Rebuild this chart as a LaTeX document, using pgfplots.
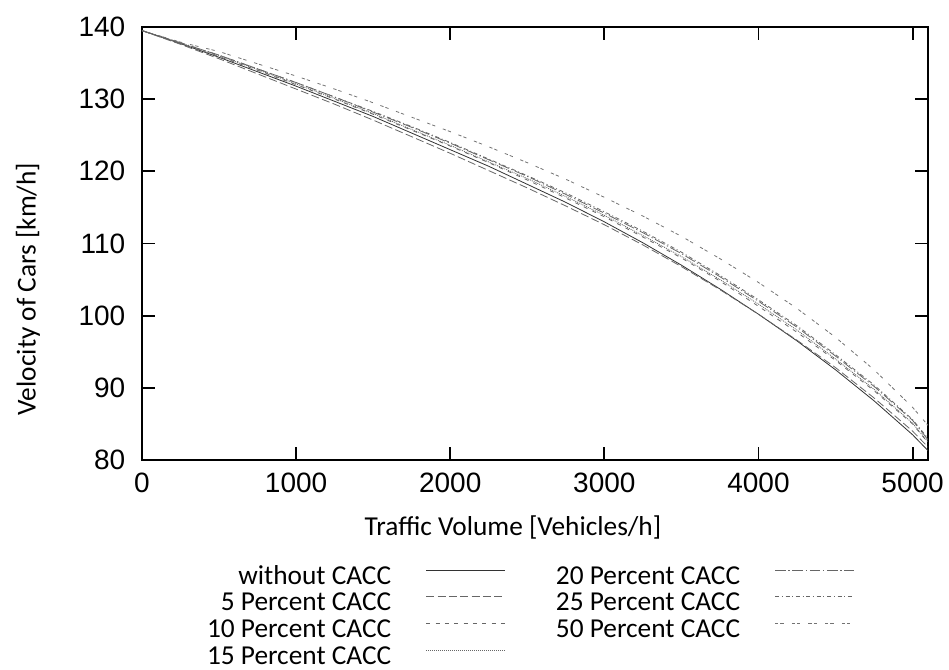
\documentclass[border=0pt]{standalone}
\usepackage{pgfplots}
\pgfplotsset{compat=1.18}
\usepackage{fontspec}
\setmainfont{Carlito}
\newfontfamily\arial{Liberation Sans}

\pgfplotstableread{
x     wo     p5     p10    p15    p20    p25    p50
0     139.5  139.5  139.5  139.5  139.5  139.5  139.5
250   137.7  137.6  137.7  137.8  137.8  137.8  137.9
500   135.8  135.6  135.9  136.0  136.1  136.1  136.6
750   133.8  133.5  134.0  134.1  134.2  134.2  134.9
1000  131.8  131.4  132.0  132.1  132.3  132.3  133.2
1250  129.7  129.3  130.0  130.1  130.3  130.3  131.4
1500  127.6  127.1  127.9  128.0  128.2  128.3  129.5
1750  125.3  124.8  125.7  125.8  126.1  126.2  127.5
2000  123.0  122.5  123.5  123.6  123.9  124.0  125.5
2250  120.7  120.1  121.2  121.3  121.6  121.7  123.4
2500  118.2  117.7  118.8  119.0  119.3  119.4  121.2
2750  115.7  115.2  116.3  116.5  116.8  117.0  118.9
3000  113.0  112.6  113.7  113.9  114.2  114.4  116.4
3250  110.1  109.8  110.9  111.1  111.5  111.7  113.8
3500  107.0  106.8  108.0  108.2  108.6  108.8  111.0
3750  103.7  103.6  104.8  105.0  105.4  105.6  107.9
4000  100.2  100.2  101.3  101.6  102.0  102.2  104.6
4250   96.5   96.6   97.7   98.0   98.4   98.6  101.0
4500   92.5   92.8   93.8   94.0   94.4   94.6   97.0
4750   88.2   88.6   89.6   89.8   90.2   90.4   92.5
5000   83.5   84.0   85.0   85.1   85.5   85.6   87.3
5100   81.3   81.8   82.4   82.5   82.8   83.0   84.8
}\speeds

\begin{document}
\begin{tikzpicture}
% fixed page size: 949x670 px at 0.75pt per px
\path[use as bounding box] (-106.5pt,-157.5pt) rectangle (605.25pt,345pt);
\begin{axis}[
  at={(0,0)}, anchor=south west,
  scale only axis,
  width=589.5pt, height=324.75pt,
  xmin=0, xmax=5100, ymin=80, ymax=140,
  xtick={0,1000,...,5000}, ytick={80,90,...,140},
  tick align=inside,
  major tick length=10pt,
  every tick/.style={black, line width=1.4pt},
  axis line style={line width=1.4pt},
  tick label style={font=\arial\fontsize{21}{23}\selectfont},
  /pgf/number format/assume math mode=true,
  /pgf/number format/1000 sep={},
  xticklabel style={yshift=-6pt},
  yticklabel style={xshift=-9pt},
  label style={font=\fontsize{20.5}{22}\selectfont},
  xlabel={Traffic Volume [Vehicles/h]},
  ylabel={Velocity of Cars [km/h]},
  xlabel style={at={(axis description cs:0.472,-0.155)}, anchor=center},
  ylabel style={at={(axis description cs:-0.145,0.395)}, anchor=center},
  legend columns=2,
  legend plot pos=right,
  legend cell align=right,
  legend style={draw=none, inner sep=0pt, outer sep=0pt,
    at={(axis description cs:0.0827,-0.2402)}, anchor=north west,
    font=\fontsize{20.5}{21}\selectfont,
    nodes={inner sep=0pt, text height=15pt, text depth=4pt},
    /tikz/every odd column/.append style={column sep=26pt},
    /tikz/every even column/.append style={column sep=38pt},
    row sep=1pt},
  legend image code/.code={\draw[#1] (0pt,5pt) -- (59pt,5pt);},
  every axis plot/.append style={line width=0.6pt, no marks},
]
\addplot[black!80] table[x=x, y=wo] {\speeds};
\addlegendentry{without CACC}
\addplot[black!60, dash pattern=on 8pt off 2pt on 1pt off 2pt] table[x=x, y=p20] {\speeds};
\addlegendentry{20 Percent CACC}
\addplot[black!60, dash pattern=on 6pt off 2.5pt] table[x=x, y=p5] {\speeds};
\addlegendentry{5 Percent CACC}
\addplot[black!60, dash pattern=on 3pt off 2pt on 0.8pt off 2pt] table[x=x, y=p25] {\speeds};
\addlegendentry{25 Percent CACC}
\addplot[black!60, dash pattern=on 3pt off 4pt] table[x=x, y=p10] {\speeds};
\addlegendentry{10 Percent CACC}
\addplot[black!55, dash pattern=on 2.5pt off 1.5pt on 2.5pt off 6pt] table[x=x, y=p50] {\speeds};
\addlegendentry{50 Percent CACC}
\addplot[black!60, dash pattern=on 0.75pt off 0.75pt] table[x=x, y=p15] {\speeds};
\addlegendentry{15 Percent CACC}
\end{axis}
\end{tikzpicture}
\end{document}
